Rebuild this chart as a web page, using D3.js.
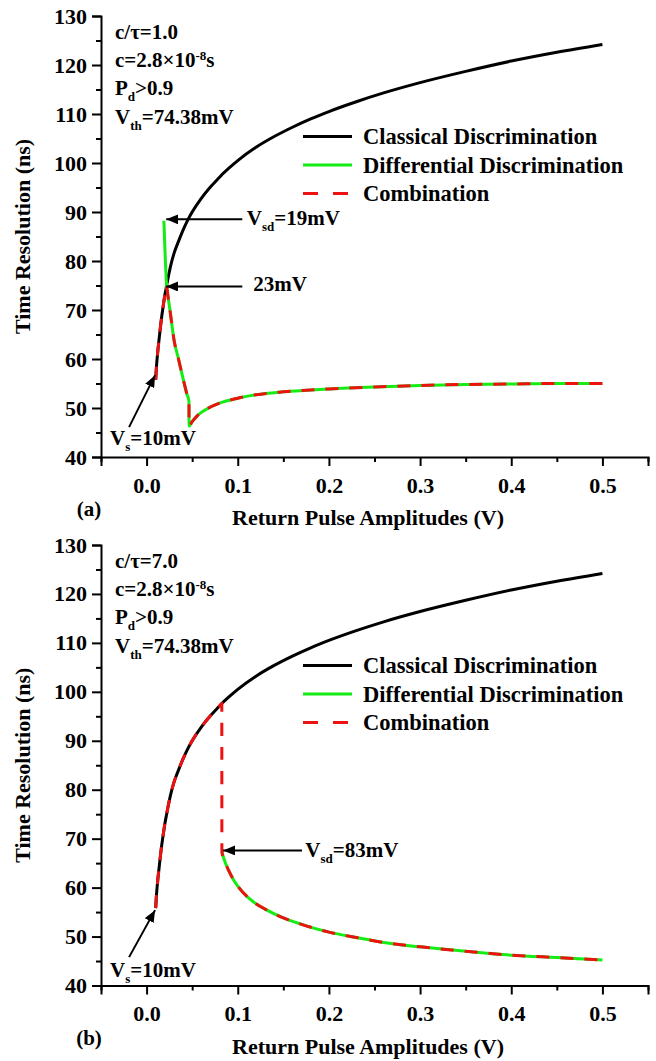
<!DOCTYPE html>
<html>
<head>
<meta charset="utf-8">
<script src="https://cdn.jsdelivr.net/npm/d3@7"></script>
<style>
  html, body { margin: 0; padding: 0; background: #fff; }
  svg { display: block; }
  text { font-family: "Liberation Serif", "Times New Roman", serif; font-weight: bold; fill: #000; }
</style>
</head>
<body>
<svg id="chart" width="656" height="1061"></svg>
<script>
// ---------- data ----------
const xTickValues = [0.0, 0.1, 0.2, 0.3, 0.4, 0.5];
const yTickValues = [40, 50, 60, 70, 80, 90, 100, 110, 120, 130];
const xMinorTicks = [-0.05, 0.05, 0.15, 0.25, 0.35, 0.45, 0.55];
const yMinorTicks = [45, 55, 65, 75, 85, 95, 105, 115, 125];

// Classical discrimination (same in both panels)
const classicalV = [0.010, 0.0105, 0.012, 0.014, 0.016, 0.018, 0.020, 0.022, 0.023, 0.026, 0.030, 0.035, 0.040, 0.045, 0.050, 0.060, 0.070, 0.080, 0.0825, 0.090, 0.100, 0.120, 0.140, 0.160, 0.180, 0.200, 0.230, 0.260, 0.300, 0.350, 0.400, 0.450, 0.500];
const classicalT = [55.8, 57.5, 61.0, 64.5, 67.8, 70.5, 73.0, 75.0, 76.0, 78.7, 81.5, 84.0, 86.3, 88.3, 90.0, 92.8, 95.1, 97.1, 97.6, 98.9, 100.5, 103.2, 105.4, 107.3, 109.0, 110.5, 112.5, 114.3, 116.4, 118.7, 120.8, 122.6, 124.2];

// Differential discrimination, c/tau = 1.0
const diffV_a = [0.019, 0.020, 0.0215, 0.022, 0.023, 0.026, 0.030, 0.035, 0.040, 0.044, 0.0465, 0.0466, 0.050, 0.055, 0.060, 0.070, 0.080, 0.100, 0.120, 0.150, 0.200, 0.250, 0.300, 0.350, 0.400, 0.450, 0.500];
const diffT_a = [88.2, 83.0, 76.5, 75.0, 73.5, 69.5, 64.0, 60.0, 56.0, 53.0, 51.3, 46.3, 47.2, 48.3, 49.1, 50.2, 51.0, 52.0, 52.7, 53.3, 53.9, 54.3, 54.6, 54.8, 54.9, 55.0, 55.0];
const switchV_a = 0.022;

// Differential discrimination, c/tau = 7.0
const diffV_b = [0.0826, 0.085, 0.090, 0.095, 0.100, 0.110, 0.120, 0.130, 0.150, 0.170, 0.200, 0.230, 0.260, 0.300, 0.350, 0.400, 0.450, 0.500];
const diffT_b = [67.3, 65.8, 63.5, 61.7, 60.3, 58.2, 56.7, 55.6, 53.8, 52.5, 50.9, 49.8, 48.8, 47.9, 47.0, 46.2, 45.7, 45.2];
const switchV_b = 0.0825;

const legendLabels = ["Classical Discrimination", "Differential Discrimination", "Combination"];
const colors = { classical: "#000000", diff: "#14ec14", combo: "#ee1111" };

// ---------- layout ----------
const svg = d3.select("#chart");
const panels = [
  { top: 16, bottom: 457, label: "(a)", ratio: "1.0", diffV: diffV_a, diffT: diffT_a, sw: switchV_a,
    arrows: [
      { tip: [0.0215, 88.5], tail: [0.105, 88.5], text: [["V",0],["sd",1],["=19mV",0]], at: [0.110, 87.3] },
      { tip: [0.0214, 74.8], tail: [0.105, 74.8], text: [["23mV",0]], at: [0.117, 73.8] },
      { tip: [0.0093, 56.7], tail: [-0.0192, 46.1], text: [["V",0],["s",1],["=10mV",0]], at: [-0.040, 42.4] }
    ] },
  { top: 545, bottom: 985.5, label: "(b)", ratio: "7.0", diffV: diffV_b, diffT: diffT_b, sw: switchV_b,
    arrows: [
      { tip: [0.0839, 67.6], tail: [0.1705, 67.6], text: [["V",0],["sd",1],["=83mV",0]], at: [0.174, 66.3] },
      { tip: [0.0093, 55.4], tail: [-0.0192, 45.8], text: [["V",0],["s",1],["=10mV",0]], at: [-0.040, 41.7] }
    ] }
];

const defs = svg.append("defs");
defs.append("marker").attr("id", "arrowHead")
  .attr("viewBox", "0 0 12 10").attr("refX", 12).attr("refY", 5)
  .attr("markerWidth", 12).attr("markerHeight", 10).attr("markerUnits", "userSpaceOnUse")
  .attr("orient", "auto")
  .append("path").attr("d", "M0,0 L12,5 L0,10 Z").attr("fill", "#000");

panels.forEach(p => {
  const x = d3.scaleLinear().domain([-0.05, 0.55]).range([101, 648]);
  const y = d3.scaleLinear().domain([40, 130]).range([p.bottom, p.top]);
  const g = svg.append("g");

  // axes
  const xAxis = g.append("g").attr("transform", `translate(0,${p.bottom})`)
    .call(d3.axisBottom(x).tickValues(xTickValues).tickSize(9).tickPadding(8).tickFormat(d3.format(".1f")));
  const xMinor = g.append("g").attr("transform", `translate(0,${p.bottom})`)
    .call(d3.axisBottom(x).tickValues(xMinorTicks).tickSize(5).tickFormat(""));
  const yAxis = g.append("g").attr("transform", `translate(101,0)`)
    .call(d3.axisLeft(y).tickValues(yTickValues).tickSize(9).tickPadding(5).tickFormat(d3.format("d")));
  const yMinor = g.append("g").attr("transform", `translate(101,0)`)
    .call(d3.axisLeft(y).tickValues(yMinorTicks).tickSize(5).tickFormat(""));
  [xAxis, xMinor, yAxis, yMinor].forEach(a => {
    a.select(".domain").attr("stroke", "#000").attr("stroke-width", 2);
    a.selectAll(".tick line").attr("stroke", "#000").attr("stroke-width", 2);
    a.selectAll(".tick text").style("font-size", "22px").style("font-family", "Liberation Serif").style("font-weight", "bold");
  });
  xMinor.select(".domain").remove();
  yMinor.select(".domain").remove();
  xAxis.selectAll(".tick text").attr("dy", "0.85em");

  // axis titles
  g.append("text").attr("x", 368).attr("y", p.bottom + 68).attr("text-anchor", "middle")
    .style("font-size", "22px").text("Return Pulse Amplitudes (V)");
  g.append("text").attr("transform", `translate(30,${(p.top + p.bottom) / 2}) rotate(-90)`)
    .attr("text-anchor", "middle").style("font-size", "22px").text("Time Resolution (ns)");
  g.append("text").attr("x", 89).attr("y", p.bottom + 59).attr("text-anchor", "middle")
    .style("font-size", "21px").text(p.label);

  // lines
  const line = d3.line().x(d => x(d[0])).y(d => y(d[1])).curve(d3.curveMonotoneX);
  const classical = classicalV.map((v, i) => [v, classicalT[i]]);
  const diff = p.diffV.map((v, i) => [v, p.diffT[i]]);
  const combo = classical.filter(d => d[0] <= p.sw).concat(diff.filter(d => d[0] > p.sw));

  g.append("path").datum(classical).attr("d", line).attr("fill", "none")
    .attr("stroke", colors.classical).attr("stroke-width", 3);
  g.append("path").datum(diff).attr("d", line).attr("fill", "none")
    .attr("stroke", colors.diff).attr("stroke-width", 3);
  g.append("path").datum(combo).attr("d", line).attr("fill", "none")
    .attr("stroke", colors.combo).attr("stroke-width", 3).attr("stroke-dasharray", "13,11");

  // legend
  const legendKeys = ["classical", "diff", "combo"];
  legendKeys.forEach((k, i) => {
    const ly = p.top + 120.5 + i * 28.5;
    g.append("line").attr("x1", 303).attr("x2", 352).attr("y1", ly).attr("y2", ly)
      .attr("stroke", colors[k]).attr("stroke-width", 3)
      .attr("stroke-dasharray", k === "combo" ? "15,15" : null);
    g.append("text").attr("x", 363).attr("y", ly).attr("dy", "0.35em")
      .style("font-size", "22.5px").text(legendLabels[i]);
  });

  // parameter block
  const tx = 115;
  const t1 = g.append("text").attr("x", tx).attr("y", p.top + 22.5).style("font-size", "21px");
  t1.append("tspan").text("c/τ=" + p.ratio);
  const t2 = g.append("text").attr("x", tx).attr("y", p.top + 51).style("font-size", "21px");
  t2.append("tspan").text("c=2.8×10");
  t2.append("tspan").attr("dy", -7).style("font-size", "13px").text("-8");
  t2.append("tspan").attr("dy", 7).text("s");
  const t3 = g.append("text").attr("x", tx).attr("y", p.top + 79).style("font-size", "21px");
  t3.append("tspan").text("P");
  t3.append("tspan").attr("dy", 6).style("font-size", "13px").text("d");
  t3.append("tspan").attr("dy", -6).text(">0.9");
  const t4 = g.append("text").attr("x", tx).attr("y", p.top + 107.5).style("font-size", "21px");
  t4.append("tspan").text("V");
  t4.append("tspan").attr("dy", 6).style("font-size", "13px").text("th");
  t4.append("tspan").attr("dy", -6).text("=74.38mV");

  // arrow annotations
  p.arrows.forEach(a => {
    g.append("line").attr("x1", x(a.tail[0])).attr("y1", y(a.tail[1]))
      .attr("x2", x(a.tip[0])).attr("y2", y(a.tip[1]))
      .attr("stroke", "#000").attr("stroke-width", 2).attr("marker-end", "url(#arrowHead)");
    const t = g.append("text").attr("x", x(a.at[0])).attr("y", y(a.at[1])).style("font-size", "21px");
    let sub = false;
    a.text.forEach(([s, isSub]) => {
      const ts = t.append("tspan").text(s);
      if (isSub && !sub) { ts.attr("dy", 6).style("font-size", "13px"); sub = true; }
      else if (!isSub && sub) { ts.attr("dy", -6); sub = false; }
    });
  });
});
</script>
</body>
</html>
